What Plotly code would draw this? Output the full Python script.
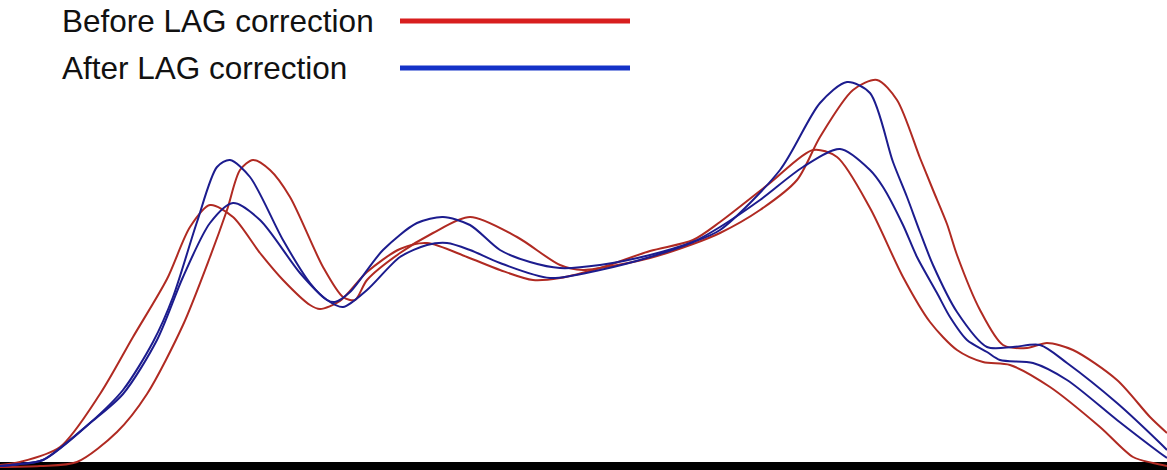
import plotly.graph_objects as go

# Signal traces (x = sample position, y = amplitude above baseline)
before_early_x = [0, 20, 60, 100, 133, 167, 190, 210, 233, 260, 283, 310, 320, 340, 367, 400, 427, 467, 500, 533,
                  560, 600, 650, 693, 720, 770, 813, 837, 870, 903, 930, 957, 983, 1010, 1050, 1100, 1133, 1153, 1167]
before_early_y = [-3, 0, 15, 68, 125, 183, 235, 257, 245, 209, 182, 157, 153, 161, 190, 213, 219, 205, 192, 182,
                  184, 194, 211, 222, 240, 279, 312, 305, 254, 185, 140, 112, 100, 97, 75, 35, 5, -1, -4]

before_late_x = [0, 40, 77, 117, 147, 183, 210, 227, 240, 253, 270, 290, 323, 343, 355, 367, 400, 433, 470, 517,
                 560, 583, 600, 650, 693, 720, 760, 797, 820, 853, 877, 897, 920, 933, 947, 957, 980, 1003, 1027,
                 1047, 1073, 1117, 1150, 1167]
before_late_y = [-5, -4, 0, 30, 68, 137, 205, 252, 292, 302, 292, 265, 195, 165, 162, 182, 209, 229, 245, 225,
                 197, 192, 194, 204, 218, 229, 252, 282, 325, 372, 382, 362, 304, 272, 238, 207, 152, 117, 114,
                 119, 112, 82, 45, 29]

after_high_x = [0, 20, 43, 90, 123, 153, 173, 197, 217, 230, 250, 283, 310, 327, 335, 350, 383, 417, 443, 470,
                500, 530, 560, 600, 650, 693, 720, 780, 820, 847, 870, 893, 907, 920, 933, 957, 987, 1013, 1040,
                1067, 1117, 1160, 1167]
after_high_y = [-4, -2, 2, 39, 72, 120, 165, 240, 295, 302, 285, 222, 179, 162, 160, 170, 212, 239, 245, 237,
                212, 200, 194, 197, 207, 220, 232, 292, 359, 380, 369, 300, 265, 230, 197, 150, 115, 115, 117,
                99, 59, 19, 12]

after_low_x = [0, 20, 43, 90, 123, 157, 183, 210, 233, 260, 300, 327, 343, 367, 400, 427, 447, 470, 500, 550,
               600, 650, 693, 720, 760, 803, 840, 870, 883, 903, 917, 937, 950, 967, 987, 1000, 1033, 1067, 1117,
               1160, 1167]
after_low_y = [-4, -2, 2, 39, 68, 122, 185, 239, 259, 242, 189, 162, 155, 172, 205, 217, 219, 212, 199, 184,
               192, 205, 220, 235, 262, 295, 313, 292, 275, 237, 205, 169, 145, 122, 110, 102, 99, 82, 42,
               9, 4]

legend_labels = ["Before LAG correction", "After LAG correction"]

RED = "#b02a22"
BLUE = "#1c1c8e"

fig = go.Figure()

for xs, ys, col in [
    (before_early_x, before_early_y, RED),
    (before_late_x, before_late_y, RED),
    (after_high_x, after_high_y, BLUE),
    (after_low_x, after_low_y, BLUE),
]:
    fig.add_trace(go.Scatter(
        x=xs, y=ys, mode="lines",
        line=dict(color=col, width=2, shape="spline", smoothing=0.8),
        showlegend=False, hoverinfo="skip",
    ))

# thick black baseline
fig.add_shape(type="rect", xref="x", yref="y", x0=0, x1=1167, y0=-10, y1=0,
              fillcolor="black", line=dict(width=0), layer="below")

# custom legend: text on the left, colour sample on the right
legend_rows = [(441, "#d81e1e"), (394, "#1432c8")]
for label, (yy, col) in zip(legend_labels, legend_rows):
    fig.add_annotation(x=60, y=yy, xref="x", yref="y", text=label, showarrow=False,
                       xanchor="left", yanchor="middle",
                       font=dict(family="Liberation Sans, Arial, sans-serif", size=31.5, color="#111111"))
    fig.add_shape(type="line", xref="x", yref="y", x0=400, x1=630, y0=yy, y1=yy,
                  line=dict(color=col, width=5))

fig.update_layout(
    width=1167, height=470,
    margin=dict(l=0, r=0, t=0, b=0),
    paper_bgcolor="white", plot_bgcolor="white",
    xaxis=dict(range=[0, 1167], visible=False, showgrid=False, zeroline=False, fixedrange=True),
    yaxis=dict(range=[-8, 462], visible=False, showgrid=False, zeroline=False, fixedrange=True),
)

fig.write_html("out.html", config={"displayModeBar": False},
               post_script="document.body.style.margin='0';document.body.style.overflow='hidden';")
